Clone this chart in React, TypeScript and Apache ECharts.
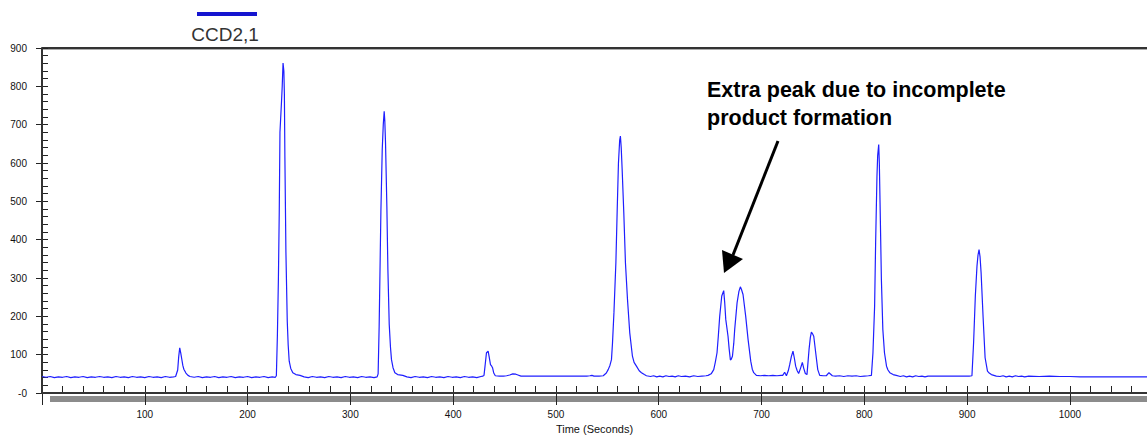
import React, { useEffect, useRef } from "react";
import * as echarts from "echarts";

type P = [number, number];

const seriesName = "CCD2,1";
const xTitle = "Time (Seconds)";
const noteLines = ["Extra peak due to incomplete", "product formation"];

const base0: P[] = [[0,43],[4,41],[8,43],[12,40],[16,42],[20,41],[24,43],[28,40],[32,42],[36,41],[40,43],[44,40],[48,42],[52,41],[56,43],[60,41],[64,42],[68,40],[72,43],[76,41],[80,42],[84,40],[88,43],[92,41],[96,42],[100,40],[104,43],[108,41],[112,42],[116,40],[120,43],[124,41],[128,42]];
const peak1: P[] = [[130,43],[132,60],[133,95],[134,118],[135,104],[136,88],[137,72],[138,62],[140,52],[142,46],[144,43]];
const base1: P[] = [[148,41],[152,43],[156,40],[160,42],[164,41],[168,43],[172,40],[176,42],[180,41],[184,43],[188,40],[192,42],[196,41],[200,43],[204,40],[208,42],[212,41],[216,43],[220,40],[224,42],[227,41]];
const peak2: P[] = [[228,45],[229,150],[230,300],[230.8,470],[231.5,680],[233,760],[233.7,800],[234.5,861],[235.3,840],[235.8,780],[236.3,614],[237.3,367],[238.6,187],[239.5,125],[240.5,83],[242,64],[244,53],[247,48],[251,46]];
const base2: P[] = [[255,42],[259,40],[263,43],[267,41],[271,42],[275,40],[279,43],[283,41],[287,42],[291,40],[295,43],[299,41],[303,42],[307,40],[311,43],[315,41],[319,42],[323,40],[326,42]];
const peak3: P[] = [[327,50],[328,174],[329,350],[329.7,474],[331,635],[332,700],[332.9,735],[333.5,710],[334.2,652],[335.5,487],[336.5,322],[337.8,179],[339,120],[340,87],[341.5,66],[343.3,53],[346,48],[351,46]];
const base3: P[] = [[355,42],[359,40],[363,43],[367,41],[371,42],[375,40],[379,43],[383,41],[387,42],[391,40],[395,43],[399,41],[403,42],[407,40],[411,43],[415,41],[419,42],[423,40],[427,43],[429,44]];
const peak4: P[] = [[430,46],[431,70],[432.4,105],[434,109],[435,95],[436.3,74],[437.5,70],[438.3,66],[439.5,52],[441,45],[445,44],[449,44],[452,45],[455,47],[458,50],[461,49],[463,47],[466,44]];
const base4: P[] = [[470,44],[480,44],[490,44],[500,44],[510,44],[520,44],[530,44],[533,45],[535,46],[537,44]];
const peak5: P[] = [[542,44],[546,45],[549,52],[550.8,61],[552.5,72],[554,87],[555,130],[556.4,209],[558.3,340],[559.6,479],[560.8,600],[562,660],[562.7,670],[563.5,640],[564.4,583],[566,470],[567.6,340],[569.6,244],[571.8,157],[574.4,96],[576,80],[578.3,70],[581,58],[583.2,53],[586,48],[588,45]];
const base5: P[] = [[592,43],[595,45],[598,42],[601,44],[604,42],[607,45],[610,43],[613,44],[616,42],[619,45],[622,43],[626,44],[630,42],[634,45],[638,43],[642,44],[646,45]];
const peak67: P[] = [[648,46],[651,50],[653.5,61],[655,80],[656.7,105],[658,150],[659.3,200],[661.3,253],[663.2,267],[664.2,235],[665.2,192],[667.4,148],[668.5,115],[669.7,86],[670.5,88],[671.7,96],[673,130],[673.9,166],[676.2,235],[678,265],[679.4,277],[680.5,270],[682,257],[684.6,200],[686.9,140],[689.5,83],[691,62],[692.4,53],[695,46]];
const base6: P[] = [[699,45],[703,46],[707,45],[711,46],[715,45],[719,46]];
const cluster: P[] = [[720.6,46],[722.5,54],[724.2,45],[726,58],[727.4,74],[729,95],[730.6,109],[732,90],[733.2,70],[734.7,58],[736.1,51],[738,65],[739.7,80],[741,65],[742.6,51],[744.2,48],[745.2,80],[746.2,113],[747.5,145],[748.5,159],[749.5,155],[750.8,148],[752.7,105],[754.7,61],[756.6,46],[760,45],[763,45],[765.6,53],[768.9,45]];
const base7: P[] = [[772,44],[776,45],[780,43],[784,45],[788,44],[792,45],[796,43],[800,44],[804,45]];
const peak8: P[] = [[806.9,46],[808.4,105],[810,226],[811,392],[812.3,566],[813,620],[814,648],[814.6,600],[815.3,496],[816.6,296],[818,166],[819.6,105],[821.6,70],[823,60],[824.8,53],[828,48],[831,46]];
const base8: P[] = [[835,43],[838,45],[841,42],[844,44],[847,42],[850,45],[853,43],[856,44],[859,42],[862,44],[866,44],[872,44],[878,44],[884,44],[890,44],[896,44],[902,44]];
const peak9: P[] = [[904.7,45],[906.3,131],[908,253],[909.6,331],[910.6,360],[911.6,374],[912.6,355],[913.6,314],[915.5,200],[917.5,92],[919.8,57],[921.5,52],[923.6,48],[928.4,44]];
const base9: P[] = [[932,43],[935,45],[938,42],[941,44],[944,42],[947,45],[950,43],[953,44],[956,42],[960,44],[970,43],[980,44],[990,43],[1000,43],[1010,42],[1020,42],[1030,42],[1040,42],[1050,42],[1060,42],[1075,42]];

const signal: P[] = [
  base0, peak1, base1, peak2, base2, peak3, base3, peak4, base4, peak5,
  base5, peak67, base6, cluster, base7, peak8, base8, peak9, base9,
].flat();

const FONT = "'Liberation Sans', Arial, sans-serif";
const X_MAX = 1075;
const Y_MAX = 900;

export default function App() {
  const ref = useRef<HTMLDivElement>(null);
  useEffect(() => {
    if (!ref.current) return;
    const chart = echarts.init(ref.current, undefined, { renderer: "svg" });
    const off = { show: false };
    const tickLine = { show: true, lineStyle: { color: "#222", width: 1, type: "solid" } };
    const hiddenAxis = (gridIndex: number) => ({
      type: "value", gridIndex, min: 0, max: 1, show: false,
      axisLine: off, axisTick: off, axisLabel: off, splitLine: off,
    });
    const tickStripX = (gridIndex: number, interval: number) => ({
      type: "value", gridIndex, min: 0, max: X_MAX, interval,
      axisLine: { show: false, onZero: false }, axisTick: off, axisLabel: off,
      splitLine: tickLine,
    });
    const tickStripY = (gridIndex: number, interval: number) => ({
      type: "value", gridIndex, min: 0, max: Y_MAX, interval,
      axisLine: { show: false, onZero: false }, axisTick: off, axisLabel: off,
      splitLine: tickLine,
    });
    chart.setOption({
      animation: false,
      backgroundColor: "#fff",
      grid: [
        { left: 42, right: 0, top: 48, bottom: 42, outerBoundsMode: "none" },
        { left: 42, right: 0, top: 386, height: 7, outerBoundsMode: "none" },
        { left: 42, right: 0, top: 393, height: 12, outerBoundsMode: "none" },
        { left: 42, width: 6, top: 48, height: 345, outerBoundsMode: "none" },
        { left: 36, width: 6, top: 48, height: 345, outerBoundsMode: "none" },
      ],
      xAxis: [
        {
          type: "value", gridIndex: 0, min: 0, max: X_MAX, interval: 100, position: "bottom",
          axisLine: { show: true, onZero: false, lineStyle: { color: "#333", width: 2 } },
          axisTick: off,
          axisLabel: {
            fontSize: 10, margin: 16, color: "#111", fontFamily: FONT,
            formatter: (v: number) => (v > 0 && v % 100 === 0 ? String(v) : ""),
          },
          splitLine: off,
          name: xTitle, nameLocation: "middle", nameGap: 30,
          nameTextStyle: { fontSize: 11, color: "#111", fontFamily: FONT },
        },
        tickStripX(1, 20),
        tickStripX(2, 100),
        hiddenAxis(3),
        hiddenAxis(4),
      ],
      yAxis: [
        {
          type: "value", gridIndex: 0, min: 0, max: Y_MAX, interval: 100, position: "left",
          axisLine: { show: true, onZero: false, lineStyle: { color: "#333", width: 2 } },
          axisTick: off,
          axisLabel: {
            fontSize: 10, margin: 15, color: "#111", fontFamily: FONT,
            formatter: (v: number) => (v === 0 ? "-0" : String(v)),
          },
          splitLine: off,
        },
        hiddenAxis(1),
        hiddenAxis(2),
        tickStripY(3, 20),
        tickStripY(4, 100),
      ],
      series: [
        {
          name: seriesName, type: "line", xAxisIndex: 0, yAxisIndex: 0,
          data: signal, showSymbol: false, symbol: "none", smooth: false,
          lineStyle: { color: "#1f1fff", width: 1.2 },
        },
      ],
      graphic: [
        { type: "rect", z: -10, silent: true, shape: { x: 50, y: 396, width: 1097, height: 6 }, style: { fill: "#8c8c8c" } },
        { type: "rect", shape: { x: 42, y: 47, width: 1105, height: 2 }, style: { fill: "#333" } },
        { type: "rect", shape: { x: 42, y: 49, width: 1105, height: 1 }, style: { fill: "#aaa" } },
        { type: "rect", shape: { x: 197, y: 12, width: 60, height: 4 }, style: { fill: "#1515d0" } },
        { type: "text", x: 225, y: 34, style: { text: seriesName, font: `19px ${FONT}`, fill: "#333", align: "center", verticalAlign: "middle" } },
        { type: "text", x: 707, y: 90, style: { text: noteLines[0], font: `bold 21.5px ${FONT}`, fill: "#000", align: "left", verticalAlign: "middle" } },
        { type: "text", x: 707, y: 118, style: { text: noteLines[1], font: `bold 21.5px ${FONT}`, fill: "#000", align: "left", verticalAlign: "middle" } },
        { type: "line", shape: { x1: 778, y1: 141, x2: 733, y2: 255 }, style: { stroke: "#000", lineWidth: 3 } },
        { type: "polygon", shape: { points: [[724, 273], [722, 250], [743, 259]] }, style: { fill: "#000" } },
      ],
    });
    return () => chart.dispose();
  }, []);
  return <div ref={ref} style={{ position: "absolute", left: 0, top: 0, width: 1147, height: 435 }} />;
}
